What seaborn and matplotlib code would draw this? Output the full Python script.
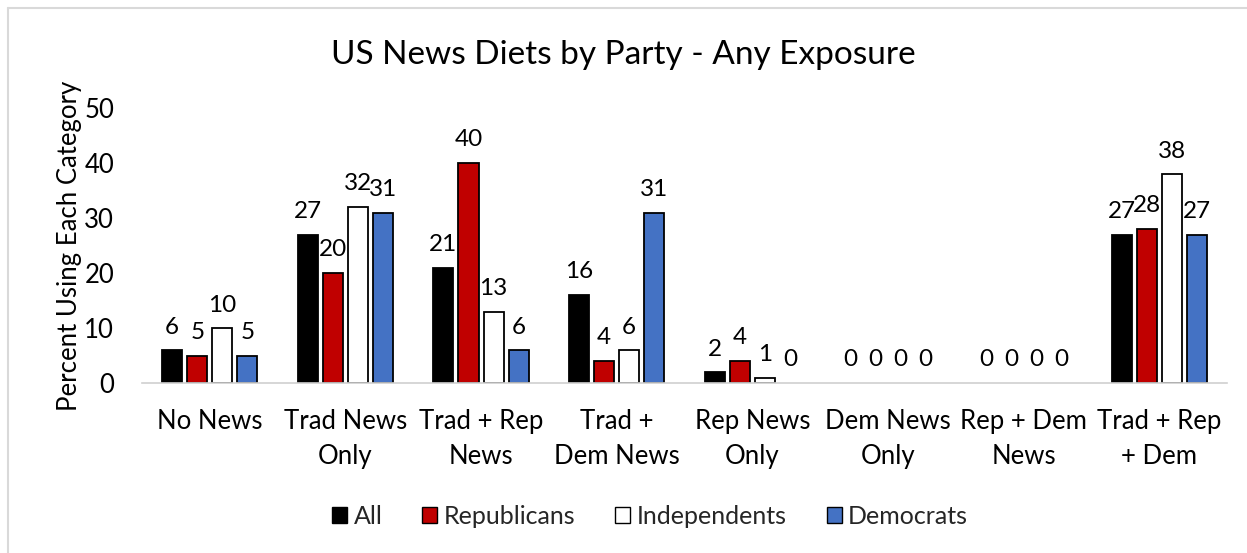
import matplotlib
matplotlib.use("Agg")
import matplotlib.pyplot as plt
import seaborn as sns
import pandas as pd
from matplotlib.lines import Line2D
from matplotlib.patches import Patch

categories = ["No News", "Trad News\nOnly", "Trad + Rep\nNews", "Trad +\nDem News",
              "Rep News\nOnly", "Dem News\nOnly", "Rep + Dem\nNews", "Trad + Rep\n+ Dem"]
series = ["All", "Republicans", "Independents", "Democrats"]
all_vals = [6, 27, 21, 16, 2, 0, 0, 27]
rep_vals = [5, 20, 40, 4, 4, 0, 0, 28]
ind_vals = [10, 32, 13, 6, 1, 0, 0, 38]
dem_vals = [5, 31, 6, 31, 0, 0, 0, 27]
colors = ["#000000", "#C00000", "#FFFFFF", "#4472C4"]

df = pd.DataFrame({
    "category": categories * 4,
    "series": [s for s in series for _ in categories],
    "value": all_vals + rep_vals + ind_vals + dem_vals,
})

sns.set_theme(style="white")
plt.rcParams["font.family"] = ["Lato", "DejaVu Sans"]

fig = plt.figure(figsize=(12.47, 5.53), dpi=100)
ax = fig.add_axes([142 / 1247, 1 - 383 / 553, (1227 - 142) / 1247, 275 / 553])

sns.barplot(data=df, x="category", y="value", hue="series", order=categories,
            hue_order=series, palette=colors, saturation=1, width=0.74, gap=0.2,
            edgecolor="black", linewidth=1.3, ax=ax, legend=False)

# zero-height bars draw nothing but their label
for cont in ax.containers:
    for bar in cont:
        if bar.get_height() == 0:
            bar.set_linewidth(0)
    ax.bar_label(cont, fmt="%d", padding=9, fontsize=17.5, color="black")

ax.set_ylim(0, 50)
ax.set_xlim(-0.5, len(categories) - 0.5)
ax.set_yticks(range(0, 51, 10))
ax.tick_params(axis="y", labelsize=18.5, length=0, pad=20, colors="black")
ax.tick_params(axis="x", labelsize=18.5, length=0, pad=19, colors="black")
for lab in ax.get_xticklabels():
    lab.set_linespacing(1.5)
ax.set_xlabel("")
ax.set_ylabel("Percent Using Each Category", fontsize=18.5, color="black", labelpad=2)
for side in ["top", "right", "left"]:
    ax.spines[side].set_visible(False)
ax.spines["bottom"].set_color("#D0D0D0")
ax.spines["bottom"].set_linewidth(1.2)

fig.text(0.5, 1 - 55 / 553, "US News Diets by Party - Any Exposure",
         ha="center", va="center", fontsize=24, color="black")

handles = [Patch(facecolor=c, edgecolor="black", linewidth=1.0) for c in colors]
fig.legend(handles, series, loc="center", bbox_to_anchor=(650 / 1247, 1 - 516 / 553),
           ncol=4, frameon=False, fontsize=18, handlelength=0.6, handleheight=0.6,
           handletextpad=0.25, columnspacing=1.6)

# light chart-area border
fig.add_artist(Line2D([8 / 1247, 8 / 1247], [0, 1 - 8 / 553], transform=fig.transFigure,
                      color="#D9D9D9", linewidth=1.5))
fig.add_artist(Line2D([8 / 1247, 1], [1 - 8 / 553, 1 - 8 / 553], transform=fig.transFigure,
                      color="#D9D9D9", linewidth=1.5))

fig.savefig("out.png", dpi=100, facecolor="white")
